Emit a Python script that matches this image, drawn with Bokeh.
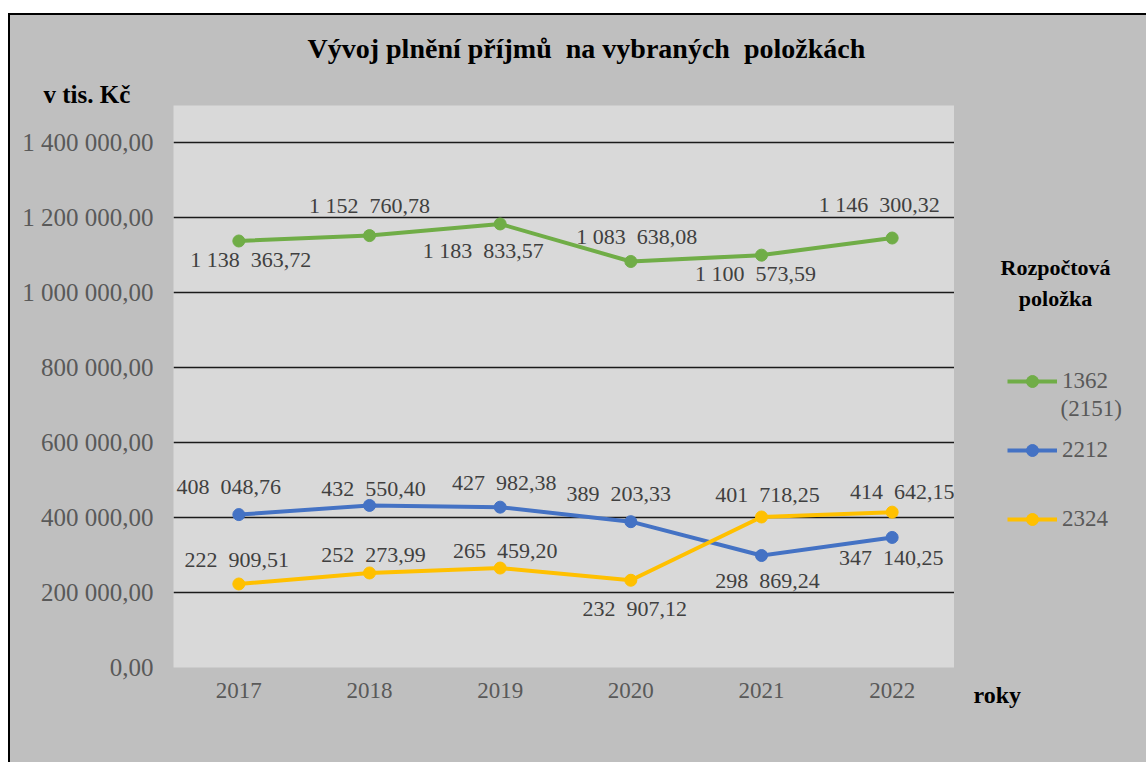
from bokeh.plotting import figure
from bokeh.layouts import row
from bokeh.models import FixedTicker, Legend, LegendItem, Range1d, ColumnDataSource, Title, Label
from bokeh.embed import file_html
from bokeh.resources import INLINE
from bokeh.core.properties import value

# ---------------- data ----------------
years = ["2017", "2018", "2019", "2020", "2021", "2022"]
series_names = ["1362", "2212", "2324"]
s1362 = [1138363.72, 1152760.78, 1183833.57, 1083638.08, 1100573.59, 1146300.32]
s2212 = [408048.76, 432550.40, 427982.38, 389203.33, 298869.24, 347140.25]
s2324 = [222909.51, 252273.99, 265459.20, 232907.12, 401718.25, 414642.15]
y_ticks = [0, 200000, 400000, 600000, 800000, 1000000, 1200000, 1400000]

title_text = "Vývoj plnění příjmů\u00a0\u00a0na vybraných\u00a0\u00a0položkách"
y_unit_text = "v tis. Kč"
x_unit_text = "roky"
legend_title_lines = ["Rozpočtová", "položka"]
legend_extra_line = "(2151)"

# ---------------- styles ----------------
colors = ["#70ad47", "#4472c4", "#ffc000"]
offsets = [
    [(12, 19), (0, -30), (-17, 27), (6, -25), (-6, 18), (-13, -34)],
    [(-10, -28), (4, -17), (4, -25), (-12, -28), (6, 25), (-1, 20)],
    [(-2, -24), (4, -18), (5, -18), (4, 28), (6, -22), (10, -21)],
]
FONT = "Liberation Serif"
OUTER = "#bfbfbf"
INNER = "#d9d9d9"
BORDER_TOP, BORDER_BOTTOM = 90, 97


def fmt_tick(v):
    s = f"{v:,.2f}"
    return s.replace(",", " ").replace(".", ",")


def fmt_label(v):
    ip, dp = f"{v:.2f}".split(".")
    groups = []
    while len(ip) > 3:
        groups.insert(0, ip[-3:])
        ip = ip[:-3]
    groups.insert(0, ip)
    if len(groups) > 1:
        txt = "\u00a0".join(groups[:-1]) + "\u00a0\u00a0" + groups[-1]
    else:
        txt = groups[0]
    return txt + "," + dp


series_values = [s1362, s2212, s2324]

# ---------------- main chart ----------------
p = figure(
    x_range=years,
    y_range=Range1d(0, 1500000),
    frame_width=782,
    frame_height=560,
    min_border_left=163,
    min_border_right=0,
    min_border_top=BORDER_TOP,
    min_border_bottom=BORDER_BOTTOM,
    output_backend="svg",
    toolbar_location=None,
    title_location=None,
)
p.styles = {"margin-top": "13px", "margin-left": "8px", "background-color": OUTER,
            "border-left": "2px solid black", "border-top": "2px solid black"}
p.border_fill_color = OUTER
p.background_fill_color = INNER
p.outline_line_color = None

p.xgrid.visible = False
p.ygrid.ticker = FixedTicker(ticks=y_ticks[1:])
p.ygrid.grid_line_color = "#1a1a1a"
p.ygrid.grid_line_width = 1.4

p.yaxis.ticker = FixedTicker(ticks=y_ticks)
p.yaxis.major_label_overrides = {t: fmt_tick(t) for t in y_ticks}
for ax in (p.xaxis[0], p.yaxis[0]):
    ax.axis_line_color = None
    ax.major_tick_line_color = None
    ax.minor_tick_line_color = None
    ax.major_tick_out = 0
    ax.major_tick_in = 0
    ax.major_label_text_font = FONT
    ax.major_label_text_color = "#595959"
p.yaxis.major_label_text_font_size = "25px"
p.xaxis.major_label_text_font_size = "23px"
p.yaxis.major_label_standoff = 20
p.xaxis.major_label_standoff = 15

for name, vals, col, offs in zip(series_names, series_values, colors, offsets):
    src = ColumnDataSource(dict(
        x=years, y=vals,
        txt=[fmt_label(v) for v in vals],
        dx=[o[0] for o in offs], dy=[o[1] for o in offs],
    ))
    p.line("x", "y", source=src, line_color=col, line_width=4)
    p.scatter("x", "y", source=src, size=12, fill_color=col, line_color=col)
    p.text("x", "y", text="txt", source=src, x_offset="dx", y_offset="dy",
           text_font=value(FONT), text_font_size="22px", text_color="#404040",
           text_align="center", text_baseline="middle")

p.add_layout(Title(text=y_unit_text, align="left", offset=-130, standoff=-5,
                   text_font=FONT, text_font_size="25px", text_font_style="bold",
                   text_color="black"), "above")
p.add_layout(Title(text=title_text, align="left", offset=134, standoff=31,
                   vertical_align="top",
                   text_font=FONT, text_font_size="28px", text_font_style="bold",
                   text_color="black"), "above")

# ---------------- right-hand strip with legend (frame in page coordinates) ----------------
q = figure(
    x_range=Range1d(954, 1146),
    y_range=Range1d(665, 105),
    frame_width=192,
    frame_height=560,
    min_border_left=0,
    min_border_right=0,
    min_border_top=BORDER_TOP,
    min_border_bottom=BORDER_BOTTOM,
    x_axis_type=None,
    y_axis_type=None,
    output_backend="svg",
    toolbar_location=None,
    title_location=None,
)
q.styles = {"margin-top": "13px", "margin-left": "-1px", "background-color": OUTER,
            "border-top": "2px solid black"}
q.border_fill_color = OUTER
q.background_fill_color = OUTER
q.outline_line_color = None
q.grid.visible = False

# legend samples: the series drawn in this strip fall outside its visible range,
# so only their legend glyphs show
items = []
for name, vals, col in zip(series_names, series_values, colors):
    idx = list(range(len(vals)))
    lr = q.line(x=idx, y=vals, line_color=col, line_width=4)
    sr = q.scatter(x=idx, y=vals, size=12, fill_color=col, line_color=col)
    items.append(LegendItem(label=name, renderers=[lr, sr]))

legend = Legend(
    items=items,
    location=(53, 133),
    orientation="vertical",
    border_line_color=None,
    background_fill_alpha=0,
    label_text_font=FONT,
    label_text_font_size="23px",
    label_text_color="#595959",
    glyph_width=50,
    glyph_height=30,
    label_height=30,
    spacing=39,
    padding=0,
    margin=0,
    label_standoff=5,
)
q.add_layout(legend)


def add_label(x, y, text, size, bold=True, color="black", align="center"):
    q.add_layout(Label(x=x, y=y, text=text,
                       text_font=FONT, text_font_size=size,
                       text_font_style="bold" if bold else "normal",
                       text_color=color, text_align=align, text_baseline="middle"))


add_label(1055, 266, legend_title_lines[0], "22px")
add_label(1055, 297, legend_title_lines[1], "22px")
add_label(1060, 407, legend_extra_line, "23px", bold=False, color="#595959", align="left")

q.add_layout(Title(text=x_unit_text, align="left", offset=19, standoff=28,
                   vertical_align="top",
                   text_font=FONT, text_font_size="24px", text_font_style="bold",
                   text_color="black"), "below")

layout = row(p, q, spacing=0)
open("out.html", "w").write(file_html(layout, INLINE))
